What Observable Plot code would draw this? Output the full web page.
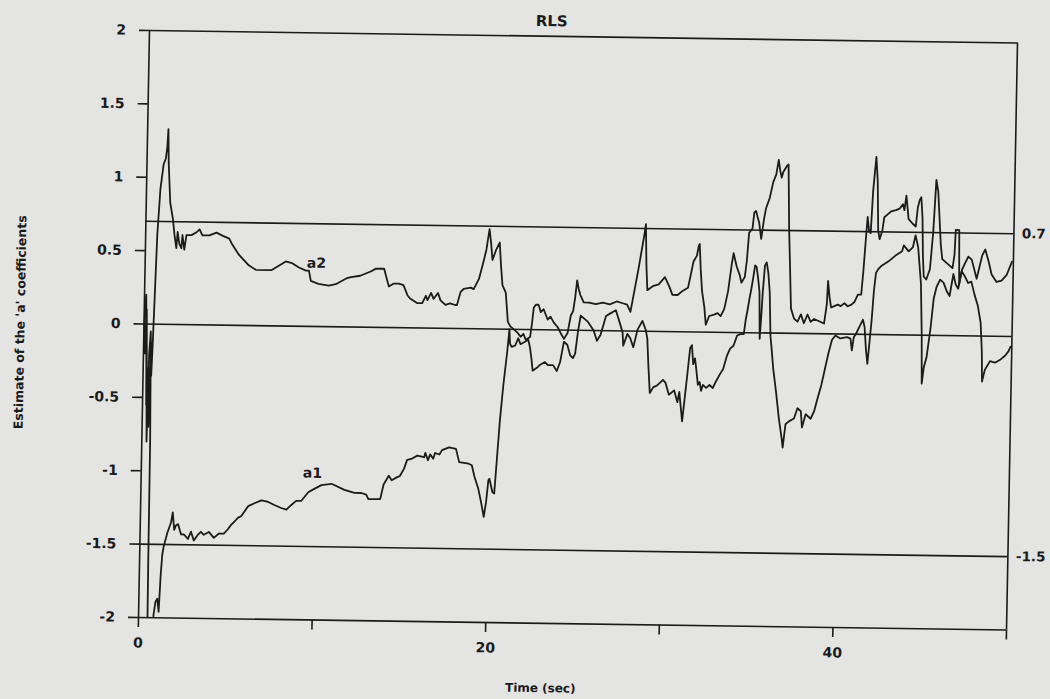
<!DOCTYPE html>
<html>
<head>
<meta charset="utf-8">
<script src="https://cdn.jsdelivr.net/npm/d3@7"></script>
<script src="https://cdn.jsdelivr.net/npm/@observablehq/plot@0.6"></script>
<style>
  html, body { margin: 0; padding: 0; background: #e4e4e2; overflow: hidden; }
  #chart { width: 1050px; height: 699px; }
  #chart svg { overflow: visible; transform-origin: 0 0; transform: matrix(1, 0.0144, -0.0187, 1, 5.67, -8.07); }
</style>
</head>
<body>
<div id="chart"></div>
<script>
// ---- data ----
const timeTicks = [0, 10, 20, 30, 40, 50];
const timeTickLabels = [0, 20, 40];
const leftTicks = [2, 1.5, 1, 0.5, 0, -0.5, -1, -1.5, -2];
const rightTicks = [0.7, -1.5];
const referenceLevels = [2, 0.7, 0, -1.5, -2];

// [time (sec), estimate]
const a2 = [[0,0],[0.1,0.2],[0.2,-0.3],[0.27,-0.8],[0.33,-0.2],[0.4,-0.05],[0.47,-0.35],[0.52,-0.15],[0.6,0.25],[0.67,0.61],[0.8,0.92],[0.96,1.09],[1.08,1.13],[1.15,1.2],[1.2,1.33],[1.25,1.1],[1.38,0.83],[1.55,0.72],[1.66,0.61],[1.78,0.52],[1.84,0.63],[1.95,0.55],[2.07,0.52],[2.12,0.61],[2.24,0.51],[2.35,0.61],[2.64,0.61],[2.93,0.63],[3.1,0.65],[3.27,0.61],[3.67,0.61],[4.08,0.63],[4.42,0.61],[4.82,0.59],[5.0,0.55],[5.4,0.48],[5.97,0.41],[6.38,0.38],[7.3,0.38],[7.7,0.41],[8.1,0.44],[8.45,0.43],[8.86,0.4],[9.27,0.38],[9.44,0.38],[9.56,0.31],[10.0,0.29],[10.6,0.28],[11.0,0.29],[11.6,0.33],[11.87,0.34],[12.4,0.35],[13.0,0.38],[13.3,0.4],[13.77,0.4],[14.06,0.28],[14.34,0.3],[14.63,0.3],[14.9,0.29],[15.15,0.22],[15.3,0.2],[15.7,0.17],[16.0,0.17],[16.2,0.22],[16.3,0.19],[16.5,0.24],[16.65,0.2],[16.9,0.24],[17.05,0.19],[17.34,0.16],[17.6,0.17],[17.9,0.16],[18.0,0.16],[18.2,0.25],[18.37,0.27],[18.78,0.28],[18.95,0.27],[19.24,0.34],[19.47,0.45],[19.64,0.54],[19.8,0.68],[19.9,0.59],[20.0,0.47],[20.2,0.54],[20.4,0.59],[20.5,0.43],[20.6,0.3],[20.8,0.25],[20.95,0.05],[21.1,0.02],[21.3,0.0],[21.5,-0.02],[21.7,-0.05],[21.86,-0.03],[22.0,-0.07],[22.25,-0.05],[22.35,0.05],[22.43,0.15],[22.55,0.17],[22.7,0.17],[22.84,0.12],[23.0,0.14],[23.24,0.07],[23.4,0.09],[23.6,0.05],[23.82,0.02],[24.0,-0.02],[24.2,-0.06],[24.4,-0.02],[24.57,0.1],[24.7,0.13],[24.8,0.22],[24.9,0.34],[25.0,0.28],[25.1,0.24],[25.3,0.19],[25.6,0.19],[26.0,0.18],[26.4,0.19],[26.8,0.18],[27.2,0.2],[27.5,0.19],[27.8,0.18],[28.0,0.13],[28.1,0.2],[28.4,0.41],[28.7,0.64],[28.8,0.73],[28.87,0.45],[28.95,0.28],[29.3,0.31],[29.6,0.32],[29.95,0.37],[30.2,0.31],[30.4,0.25],[30.7,0.25],[31.0,0.28],[31.29,0.3],[31.58,0.48],[31.77,0.52],[31.87,0.59],[31.92,0.6],[32.0,0.43],[32.1,0.28],[32.25,0.17],[32.35,0.05],[32.54,0.11],[32.82,0.12],[33.02,0.13],[33.2,0.11],[33.4,0.16],[33.6,0.28],[33.78,0.46],[33.88,0.54],[34.07,0.45],[34.26,0.39],[34.36,0.34],[34.55,0.38],[34.65,0.49],[34.75,0.68],[34.94,0.71],[35.03,0.82],[35.13,0.83],[35.22,0.79],[35.32,0.75],[35.45,0.64],[35.6,0.78],[35.7,0.85],[35.9,0.92],[36.09,1.03],[36.25,1.08],[36.38,1.18],[36.47,1.11],[36.57,1.06],[36.66,1.1],[36.86,1.14],[36.95,1.15],[37.05,0.71],[37.14,0.46],[37.24,0.17],[37.43,0.1],[37.63,0.08],[37.82,0.13],[38.0,0.07],[38.2,0.13],[38.39,0.08],[38.58,0.1],[38.78,0.09],[38.97,0.08],[39.16,0.07],[39.3,0.2],[39.35,0.36],[39.45,0.25],[39.55,0.18],[39.73,0.19],[39.93,0.2],[40.1,0.19],[40.31,0.21],[40.5,0.19],[40.7,0.2],[40.89,0.22],[41.08,0.27],[41.27,0.27],[41.37,0.43],[41.46,0.61],[41.56,0.8],[41.66,0.7],[41.75,0.69],[41.85,0.98],[42.0,1.21],[42.1,1.05],[42.18,0.71],[42.27,0.65],[42.42,0.71],[42.52,0.8],[42.71,0.82],[42.9,0.84],[43.19,0.85],[43.39,0.86],[43.58,0.89],[43.67,0.85],[43.77,0.95],[43.92,0.79],[44.15,0.76],[44.34,0.74],[44.44,0.87],[44.54,0.92],[44.63,0.94],[44.72,0.8],[44.78,0.55],[44.85,0.4],[45.0,0.38],[45.2,0.45],[45.35,0.7],[45.48,1.06],[45.6,0.98],[45.7,0.8],[45.8,0.62],[45.9,0.52],[46.1,0.5],[46.3,0.48],[46.5,0.46],[46.6,0.55],[46.65,0.72],[46.85,0.72],[46.9,0.35],[47.05,0.45],[47.2,0.49],[47.4,0.54],[47.6,0.52],[47.9,0.39],[48.2,0.55],[48.37,0.59],[48.57,0.51],[48.76,0.42],[49.05,0.37],[49.34,0.38],[49.63,0.42],[49.92,0.51]];

const a1 = [[0,0],[0.08,-0.2],[0.14,0.1],[0.22,-0.55],[0.3,-0.3],[0.36,-0.7],[0.42,-0.2],[0.48,-0.8],[0.5,-1.6],[0.53,-2.3],[0.8,-2.3],[0.86,-1.98],[0.96,-1.89],[1.06,-1.87],[1.15,-1.96],[1.23,-1.71],[1.3,-1.57],[1.38,-1.51],[1.57,-1.42],[1.77,-1.35],[1.86,-1.28],[1.96,-1.4],[2.05,-1.37],[2.18,-1.36],[2.36,-1.43],[2.53,-1.43],[2.76,-1.46],[2.93,-1.41],[3.1,-1.47],[3.33,-1.43],[3.5,-1.41],[3.67,-1.43],[3.96,-1.41],[4.25,-1.45],[4.54,-1.42],[4.82,-1.42],[5.05,-1.39],[5.23,-1.36],[5.4,-1.34],[5.63,-1.31],[5.8,-1.3],[6.2,-1.23],[6.55,-1.21],[6.95,-1.19],[7.35,-1.2],[7.7,-1.22],[8.1,-1.24],[8.4,-1.25],[8.66,-1.22],[8.95,-1.19],[9.24,-1.19],[9.64,-1.13],[9.93,-1.11],[10.39,-1.08],[10.97,-1.07],[11.72,-1.11],[12.3,-1.13],[12.7,-1.13],[12.98,-1.14],[13.1,-1.17],[13.44,-1.17],[13.79,-1.17],[13.97,-1.07],[14.26,-1.01],[14.43,-1.04],[14.72,-1.02],[14.9,-1.01],[15.13,-0.96],[15.3,-0.9],[15.59,-0.89],[15.88,-0.87],[16.28,-0.88],[16.34,-0.85],[16.5,-0.9],[16.62,-0.86],[16.8,-0.89],[16.9,-0.85],[17.15,-0.86],[17.3,-0.83],[17.7,-0.81],[18.1,-0.82],[18.3,-0.91],[18.85,-0.92],[19.03,-0.93],[19.2,-1.01],[19.43,-1.09],[19.6,-1.18],[19.77,-1.28],[19.89,-1.18],[20.0,-1.03],[20.06,-1.02],[20.24,-1.11],[20.35,-1.12],[20.55,-0.72],[20.6,-0.62],[20.76,-0.38],[20.95,-0.15],[21.05,0.0],[21.1,-0.1],[21.2,-0.12],[21.4,-0.11],[21.57,-0.06],[21.7,-0.1],[21.86,-0.09],[22.15,-0.07],[22.25,-0.12],[22.35,-0.2],[22.43,-0.28],[22.67,-0.26],[22.84,-0.24],[23.13,-0.22],[23.3,-0.24],[23.6,-0.24],[23.82,-0.28],[24.0,-0.22],[24.2,-0.08],[24.4,-0.1],[24.57,-0.17],[24.74,-0.19],[24.86,-0.16],[25.0,-0.01],[25.14,0.1],[25.55,0.06],[25.9,0.0],[26.1,-0.07],[26.3,-0.03],[26.6,0.1],[26.87,0.12],[27.16,0.14],[27.33,0.08],[27.57,-0.01],[27.62,-0.1],[27.85,-0.02],[28.02,-0.05],[28.2,-0.11],[28.43,0.01],[28.7,0.07],[28.9,0.01],[29.0,-0.05],[29.1,-0.25],[29.2,-0.42],[29.4,-0.38],[29.6,-0.37],[29.95,-0.33],[30.1,-0.35],[30.3,-0.43],[30.6,-0.4],[30.8,-0.48],[30.9,-0.41],[31.09,-0.61],[31.29,-0.36],[31.48,-0.11],[31.58,-0.09],[31.67,-0.22],[31.77,-0.18],[31.87,-0.27],[31.96,-0.36],[32.06,-0.34],[32.15,-0.4],[32.25,-0.36],[32.44,-0.38],[32.63,-0.36],[32.82,-0.38],[33.02,-0.33],[33.2,-0.29],[33.4,-0.25],[33.6,-0.16],[33.78,-0.11],[33.97,-0.09],[34.17,-0.02],[34.36,-0.01],[34.55,-0.01],[34.65,0.09],[34.75,0.16],[34.84,0.23],[34.94,0.3],[35.03,0.37],[35.13,0.46],[35.22,0.45],[35.32,0.37],[35.41,0.28],[35.47,-0.04],[35.55,0.14],[35.6,0.28],[35.7,0.46],[35.8,0.48],[35.9,0.41],[36.0,0.28],[36.09,-0.02],[36.19,-0.13],[36.28,-0.24],[36.47,-0.4],[36.66,-0.58],[36.86,-0.73],[36.91,-0.78],[37.05,-0.62],[37.24,-0.6],[37.53,-0.58],[37.72,-0.51],[37.92,-0.53],[38.0,-0.64],[38.2,-0.55],[38.49,-0.58],[38.68,-0.53],[38.87,-0.44],[39.07,-0.35],[39.26,-0.24],[39.45,-0.13],[39.64,-0.04],[39.83,-0.01],[40.12,-0.03],[40.5,-0.02],[40.7,-0.03],[40.79,-0.11],[40.89,-0.02],[41.0,0.0],[41.2,0.05],[41.4,0.1],[41.5,0.05],[41.6,-0.1],[41.7,-0.2],[41.8,-0.05],[41.9,0.1],[42.0,0.3],[42.1,0.42],[42.25,0.45],[42.42,0.47],[42.81,0.5],[43.2,0.54],[43.58,0.57],[43.67,0.61],[43.96,0.57],[44.2,0.6],[44.34,0.68],[44.5,0.6],[44.7,0.35],[44.8,0.0],[44.85,-0.33],[44.95,-0.22],[45.1,-0.15],[45.3,0.05],[45.45,0.25],[45.6,0.33],[45.8,0.38],[46.0,0.36],[46.2,0.3],[46.36,0.27],[46.56,0.42],[46.7,0.35],[46.85,0.32],[47.03,0.44],[47.2,0.41],[47.42,0.36],[47.6,0.37],[47.8,0.28],[47.99,0.21],[48.18,0.09],[48.28,-0.11],[48.32,-0.31],[48.47,-0.23],[48.76,-0.17],[49.05,-0.18],[49.34,-0.16],[49.63,-0.13],[49.82,-0.1],[49.92,-0.07]];

const curveNames = ["a1", "a2"];
const curveNameTime = [9.86, 9.87];
const curveNameValue = [-1.0, 0.43];

const titleText = "RLS";
const xTitle = "Time (sec)";
const yTitle = "Estimate of the 'a' coefficients";

// ---- chart ----
const ink = "#1b1b1b";
const nameRows = curveNames.map((n, i) => ({name: n, t: curveNameTime[i], v: curveNameValue[i]}));

const chart = Plot.plot({
  width: 1050,
  height: 699,
  marginLeft: 144,
  marginRight: 38,
  marginTop: 36,
  marginBottom: 76,
  x: {domain: [0, 50]},
  y: {domain: [-2, 2]},
  style: {background: "transparent", color: ink, fontFamily: "'DejaVu Sans', sans-serif", fontWeight: "bold", fontSize: "14px"},
  marks: [
    Plot.ruleY(referenceLevels, {stroke: ink, strokeWidth: 1.6}),
    Plot.ruleX([0, 50], {stroke: ink, strokeWidth: 1.6}),
    Plot.axisY(leftTicks, {anchor: "left", tickSize: 10, tickPadding: 13.5, strokeWidth: 1.6, tickFormat: d => String(d), label: null, fontSize: 14}),
    Plot.axisY(rightTicks, {anchor: "right", tickSize: 0, tickPadding: 8, tickFormat: d => String(d), label: null, fontSize: 13.5}),
    Plot.axisX(timeTicks, {anchor: "bottom", tickSize: 10, tickPadding: 10, strokeWidth: 1.6, tickFormat: d => timeTickLabels.includes(d) ? String(d) : "", label: null, fontSize: 14}),
    Plot.line(a1, {x: d => d[0], y: d => d[1], stroke: ink, strokeWidth: 1.8, clip: true}),
    Plot.line(a2, {x: d => d[0], y: d => d[1], stroke: ink, strokeWidth: 1.8, clip: true}),
    Plot.text(nameRows, {x: "t", y: "v", text: "name", fontSize: 14, fill: ink}),
    Plot.text([titleText], {frameAnchor: "top", textAnchor: "middle", lineAnchor: "middle", dx: -32, dy: -15, fontSize: 15, fill: ink}),
    Plot.text([xTitle], {frameAnchor: "bottom", textAnchor: "middle", lineAnchor: "middle", dx: -31, dy: 65, fontSize: 12, fill: ink}),
    Plot.text([yTitle], {frameAnchor: "left", textAnchor: "middle", lineAnchor: "middle", dx: -123.5, rotate: -90, fontSize: 12.5, fill: ink})
  ]
});
document.getElementById("chart").appendChild(chart);
</script>
</body>
</html>
